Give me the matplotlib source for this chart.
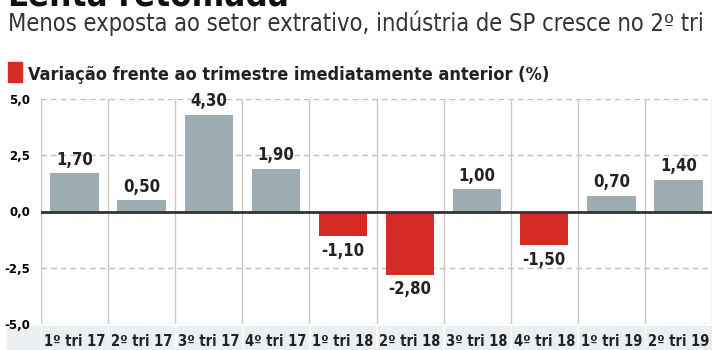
import matplotlib.pyplot as plt
from matplotlib.patches import Rectangle
import numpy as np

# dados: variacao da industria de SP frente ao trimestre anterior (%)
quarters = ["1º tri 17", "2º tri 17", "3º tri 17", "4º tri 17", "1º tri 18",
            "2º tri 18", "3º tri 18", "4º tri 18", "1º tri 19", "2º tri 19"]
values = [1.70, 0.50, 4.30, 1.90, -1.10, -2.80, 1.00, -1.50, 0.70, 1.40]
yticks = [-5.0, -2.5, 0.0, 2.5, 5.0]

grey = "#9dadb2"
red = "#d52b24"
fam = "DejaVu Sans"

fig = plt.figure(figsize=(7.16, 3.5), dpi=100)
ax = fig.add_axes([41/716, 1-324/350, 671/716, 225/350])

x = np.arange(len(values))
colors = [grey if v >= 0 else red for v in values]
ax.bar(x, values, width=0.72, color=colors, zorder=3)

ax.set_xlim(-0.5, len(values) - 0.5)
ax.set_ylim(-5, 5)

# grade
for y in yticks:
    if y != 0:
        ax.axhline(y, color="#bdbdbd", lw=1, ls=(0, (4, 3)), zorder=1)
ax.axhline(0, color="#333333", lw=2, zorder=4)
for b in np.arange(-0.5, len(values), 1.0):
    ax.axvline(b, color="#c8c8c8", lw=1, zorder=1)

for s in ax.spines.values():
    s.set_visible(False)
ax.set_xticks([])
ax.set_yticks(yticks)
ax.set_yticklabels([f"{t:.1f}".replace(".", ",") for t in yticks],
                   fontsize=8.5, fontweight="bold", family=fam)
ax.tick_params(axis="y", length=0, pad=8)

# rotulos de valor
for xi, v in zip(x, values):
    lab = f"{v:.2f}".replace(".", ",")
    if v >= 0:
        ax.text(xi, v + 0.2, lab, ha="center", va="bottom", fontsize=12,
                fontweight="bold", family=fam, fontstretch="condensed", color="#222222")
    else:
        ax.text(xi, v - 0.25, lab, ha="center", va="top", fontsize=12,
                fontweight="bold", family=fam, fontstretch="condensed", color="#222222")

# faixa dos trimestres
ax.add_patch(Rectangle((-1.0, -6.2), 0.48, 1.1, color="#eceff1",
                       clip_on=False, zorder=0))
for xi, q in zip(x, quarters):
    ax.add_patch(Rectangle((xi - 0.48, -6.2), 0.96, 1.1, color="#eceff1",
                           clip_on=False, zorder=0))
    ax.text(xi, -5.78, q, ha="center", va="center", fontsize=10.5,
            fontweight="bold", family=fam, fontstretch="condensed",
            color="#222222", clip_on=False)

# titulos
fig.text(8/716, 1-5/350, "Lenta retomada", fontsize=25, fontweight="bold",
         family=fam, fontstretch="condensed", va="baseline", color="#111111")
fig.text(8/716, 1-31/350, "Menos exposta ao setor extrativo, indústria de SP cresce no 2º tri",
         fontsize=17, family=fam, fontstretch="condensed", va="baseline", color="#333333")
fig.add_artist(Rectangle((8/716, 1-82/350), 14/716, 20/350, color=red,
                         transform=fig.transFigure))
fig.text(28/716, 1-80/350, "Variação frente ao trimestre imediatamente anterior (%)",
         fontsize=13, fontweight="bold", family=fam, fontstretch="condensed",
         va="baseline", color="#222222")

fig.savefig("out.png", dpi=100)
